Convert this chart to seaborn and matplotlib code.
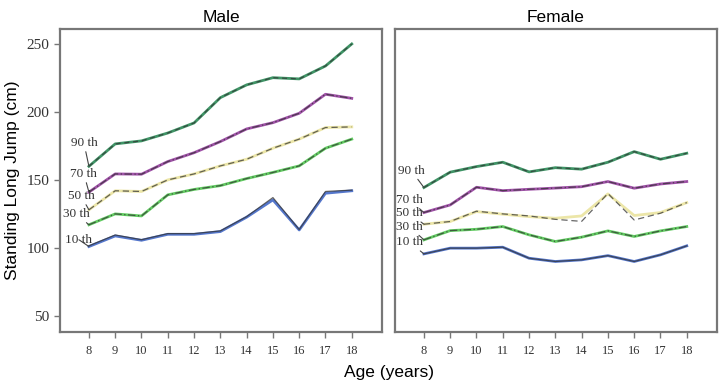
import numpy as np
import pandas as pd
import seaborn as sns
import matplotlib.pyplot as plt

ages = [8, 9, 10, 11, 12, 13, 14, 15, 16, 17, 18]
percentiles = ['90 th', '70 th', '50 th', '30 th', '10 th']

# observed percentile values (cm)
male_p90 = [160, 176.5, 178.7, 184.5, 191.9, 210.5, 219.9, 225.2, 224.3, 233.8, 250]
male_p70 = [141, 154.4, 154.2, 163.5, 170, 178.2, 187.5, 192.1, 199, 213, 210]
male_p50 = [128, 142, 141.5, 150, 154.4, 160.3, 165.2, 173.3, 180, 188.5, 189]
male_p30 = [117, 125, 123.5, 139, 143, 145.8, 151, 155.5, 160.3, 173.3, 180]
male_p10 = [101, 108.8, 105.6, 110, 110, 112, 122.6, 135.3, 113.2, 140.2, 142]

female_p90 = [144.4, 155.7, 159.8, 163, 155.9, 159, 157.9, 163, 170.8, 165.2, 169.6]
female_p70 = [126, 131.6, 144.6, 142.1, 143.1, 144, 145, 148.8, 143.9, 147, 148.8]
female_p50 = [117.4, 119.4, 126.7, 124.8, 123, 121.8, 123.5, 139.7, 123.8, 126, 133.3]
female_p30 = [105.9, 112.7, 113.7, 115.7, 109.6, 104.7, 107.9, 112.5, 108.4, 112.5, 115.7]
female_p10 = [95.6, 99.8, 99.8, 100.5, 92.4, 90, 91.2, 94.3, 90, 94.9, 101.5]

# fitted (smoothed) curves where they visibly differ from the observed ones
male_fit10 = [101.5, 109.5, 106, 110.5, 110.5, 112.5, 123, 137, 113.5, 141.5, 142.5]
female_fit50 = [117.4, 119.4, 127, 125, 123.5, 121, 119.5, 140, 120.5, 125.5, 133.3]

male = [male_p90, male_p70, male_p50, male_p30, male_p10]
female = [female_p90, female_p70, female_p50, female_p30, female_p10]
male_fit = [male_p90, male_p70, male_p50, male_p30, male_fit10]
female_fit = [female_p90, female_p70, female_fit50, female_p30, female_p10]

colors = ['#3f9466', '#a052a8', '#ece6a8', '#62cc62', '#5577cc']
fit_styles = [(0, (4, 3)), (0, (6, 2, 1, 2)), (0, (5, 3)), (0, (6, 2, 1, 2)), '-']

# label text positions (age, value) for the percentile names
male_lab_x = [7.81, 7.81, 7.70, 7.51, 7.62]
male_lab_y = [177.2, 154.4, 138.2, 125, 106]
female_lab_x = [7.52, 7.45, 7.45, 7.45, 7.45]
female_lab_y = [156.9, 135.3, 125.5, 115.7, 104.2]

plt.rcParams['font.family'] = ['Liberation Sans', 'DejaVu Sans']

fig = plt.figure(figsize=(7.2, 3.91), dpi=100)
ax_m = fig.add_axes([60 / 720, 1 - 331.5 / 391, 322 / 720, 302.5 / 391])
ax_f = fig.add_axes([395 / 720, 1 - 331.5 / 391, 322 / 720, 302.5 / 391])

serif = 'Liberation Serif'

for ax, obs, fit, lx, ly, title in [
        (ax_m, male, male_fit, male_lab_x, male_lab_y, 'Male'),
        (ax_f, female, female_fit, female_lab_x, female_lab_y, 'Female')]:
    for i, p in enumerate(percentiles):
        df = pd.DataFrame({'age': ages, 'obs': obs[i], 'fit': fit[i]})
        sns.lineplot(data=df, x='age', y='obs', ax=ax, color=colors[i], lw=2.0)
        sns.lineplot(data=df, x='age', y='fit', ax=ax, color='#333333', lw=0.9,
                     linestyle=fit_styles[i], alpha=0.75)
        ax.annotate(p, xy=(ages[0], obs[i][0]), xytext=(lx[i], ly[i]),
                    ha='center', va='center', fontsize=9.5, family=serif, color='#333333',
                    arrowprops=dict(arrowstyle='-', color='#444444', lw=0.8,
                                    shrinkA=0, shrinkB=0))
    ax.set_xlim(6.9, 19.15)
    ax.set_ylim(38.5, 261)
    ax.set_xticks(ages)
    ax.set_xticklabels([str(a) for a in ages], family=serif, fontsize=9, color='#333333')
    ax.set_xlabel('')
    ax.set_ylabel('')
    ax.set_title(title, fontsize=12.5, pad=5)
    for s in ax.spines.values():
        s.set_color('#777777')
        s.set_linewidth(1.6)
    ax.tick_params(axis='x', length=4, width=1, color='#777777', pad=6)

ax_m.set_yticks([50, 100, 150, 200, 250])
ax_m.set_yticklabels(['50', '100', '150', '200', '250'], family=serif, fontsize=11, color='#333333')
ax_m.tick_params(axis='y', length=4, width=1, color='#777777')
ax_m.set_ylabel('Standing Long Jump (cm)', fontsize=12.5, labelpad=5)
ax_f.set_yticks([])

fig.text(0.54, 1 - 372 / 391, 'Age (years)', ha='center', va='center', fontsize=12.5)

plt.savefig('out.png', dpi=100)
